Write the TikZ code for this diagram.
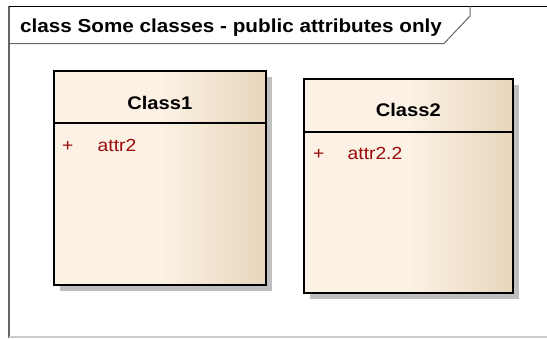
\documentclass[tikz,border=0pt]{standalone}
\usepackage{fontspec}
\newfontfamily\umlfont[FakeStretch=1.1]{Liberation Sans}
\usetikzlibrary{shadows}
\definecolor{classfill}{RGB}{251,241,228}
\definecolor{classedge}{RGB}{232,214,188}
\definecolor{attrred}{RGB}{155,10,10}
\definecolor{framegray}{RGB}{100,100,100}

\begin{document}
\begin{tikzpicture}[x=1pt, y=-1pt,
  classbox/.style = {shape=rectangle, draw, line width=1.6pt,
    anchor=north west, inner sep=0pt,
    left color=classfill, right color=classedge, middle color=classfill,
    drop shadow={shadow xshift=6pt, shadow yshift=-6pt,
      fill=black!25, opacity=1}},
  classname/.style = {font=\umlfont\bfseries\fontsize{18.3}{20}\selectfont,
    anchor=base, inner sep=0pt},
  attrib/.style = {font=\umlfont\fontsize{17.5}{20}\selectfont,
    text=attrred, anchor=base west, inner sep=0pt}]
  \useasboundingbox (0,0) rectangle (547,338);
  % diagram frame
  \draw[framegray, line width=1.2pt] (9,6) -- (9,338);
  \draw[black!20, line width=1.2pt] (9,337) -- (547,337);
  \draw[black, line width=1pt] (9,6) -- (547,6);
  \node[font=\umlfont\bfseries\fontsize{18.8}{20}\selectfont,
    anchor=base west, inner sep=0pt] (frame title) at (20,32.7)
    {class Some classes - public attributes only};
  \draw[framegray, line width=1pt] (9,43.5) -- (444,43.5) -- (470,16) -- (470,6);
  % classes
  \node[classbox, minimum width=212pt, minimum height=214pt] (class1) at (53,70) {};
  \draw[line width=1.3pt] ([yshift=-53pt]class1.north west)
    -- ([yshift=-53pt]class1.north east);
  \node[classname] (class1 name) at ([yshift=-39pt]class1.north) {Class1};
  \node[attrib] (class1 plus) at ([shift={(9pt,-81pt)}]class1.north west) {+};
  \node[attrib] (class1 attr) at ([xshift=44.5pt]class1.north west |- class1 plus.base) {attr2};

  \node[classbox, minimum width=209pt, minimum height=214pt] (class2) at (303,78) {};
  \draw[line width=1.3pt] ([yshift=-54pt]class2.north west)
    -- ([yshift=-54pt]class2.north east);
  \node[classname] (class2 name) at ([yshift=-38pt]class2.north) {Class2};
  \node[attrib] (class2 plus) at ([shift={(10pt,-81pt)}]class2.north west) {+};
  \node[attrib] (class2 attr) at ([xshift=44.5pt]class2.north west |- class2 plus.base) {attr2.2};
\end{tikzpicture}
\end{document}
